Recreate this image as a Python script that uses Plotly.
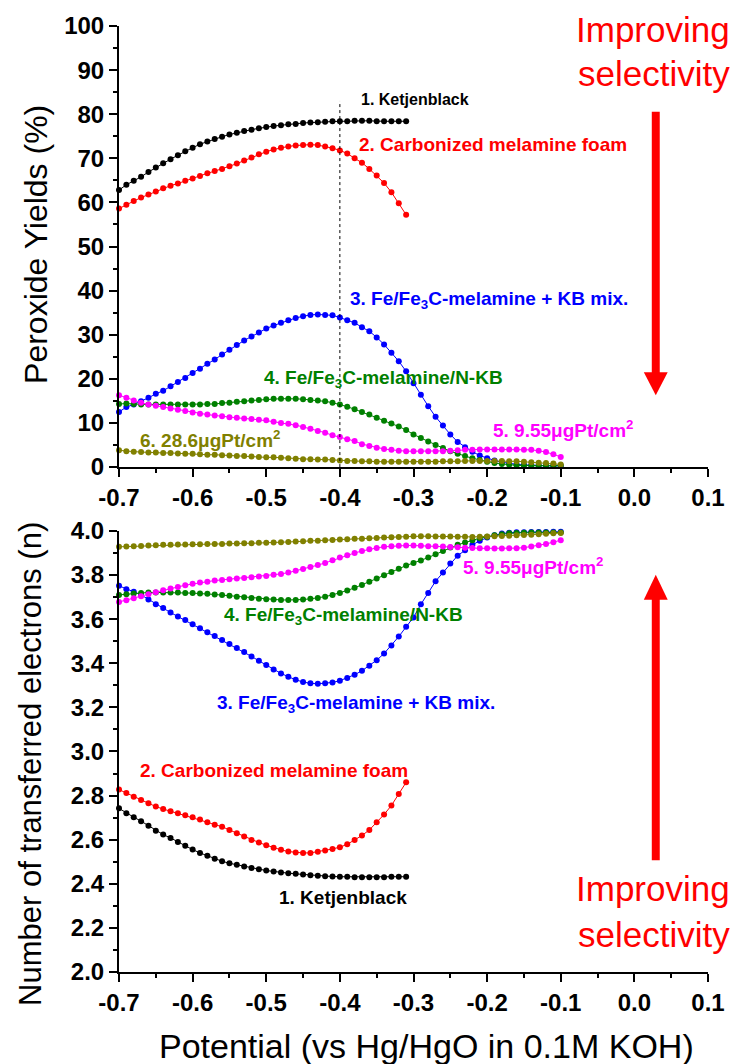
import plotly.graph_objects as go

# Potential grid (V vs Hg/HgO), 10 mV steps
potential_short = [round(-0.70 + 0.01 * i, 2) for i in range(40)]   # -0.70 ... -0.31
potential_long = [round(-0.70 + 0.01 * i, 2) for i in range(61)]    # -0.70 ... -0.10

# Peroxide yields (%)
yield_kb = [62.8, 64.0, 64.9, 65.8, 66.9, 67.9, 68.9, 69.8, 70.7, 71.6,
            72.4, 73.2, 73.8, 74.4, 74.9, 75.4, 75.8, 76.2, 76.5, 76.8,
            77.1, 77.3, 77.5, 77.7, 77.8, 78.0, 78.1, 78.2, 78.3, 78.4,
            78.4, 78.4, 78.5, 78.5, 78.5, 78.4, 78.4, 78.4, 78.4, 78.4]
yield_cmf = [58.6, 59.5, 60.3, 61.1, 61.8, 62.5, 63.2, 63.8, 64.3, 64.9,
             65.4, 66.0, 66.6, 67.1, 67.6, 68.2, 68.8, 69.5, 70.2, 70.9,
             71.5, 72.0, 72.4, 72.7, 72.9, 73.0, 73.1, 73.0, 72.7, 72.3,
             71.8, 71.1, 70.0, 69.0, 67.6, 66.1, 64.4, 62.3, 59.8, 57.2]
yield_mix = [12.5, 13.6, 14.2, 14.9, 15.7, 16.6, 17.3, 18.3, 19.3, 20.2,
             21.3, 22.3, 23.4, 24.4, 25.5, 26.6, 27.7, 28.7, 29.6, 30.5,
             31.4, 32.1, 32.7, 33.3, 33.8, 34.2, 34.5, 34.6, 34.5, 34.4,
             33.9, 33.3, 32.7, 31.7, 30.8, 29.4, 27.8, 25.9, 24.0, 21.7,
             19.0, 16.4, 13.8, 11.4, 9.4, 7.4, 5.7, 4.5, 3.5, 2.6,
             2.0, 1.5, 1.1, 0.8, 0.6, 0.5, 0.4, 0.35, 0.3, 0.3, 0.3]
yield_nkb = [14.3, 14.4, 14.3, 14.2, 14.2, 14.2, 14.2, 14.2, 14.2, 14.2,
             14.2, 14.2, 14.3, 14.3, 14.5, 14.6, 14.8, 14.9, 15.1, 15.2,
             15.4, 15.5, 15.5, 15.5, 15.5, 15.4, 15.2, 15.1, 14.9, 14.6,
             14.2, 13.7, 13.1, 12.5, 11.9, 11.2, 10.5, 9.9, 9.2, 8.4,
             7.4, 6.6, 5.8, 5.0, 4.3, 3.6, 3.0, 2.5, 2.0, 1.6,
             1.2, 0.9, 0.7, 0.5, 0.4, 0.35, 0.3, 0.3, 0.3, 0.3, 0.3]
yield_pt955 = [16.3, 15.7, 15.1, 14.6, 14.2, 13.9, 13.6, 13.3, 13.0, 12.7,
               12.4, 12.1, 11.9, 11.7, 11.5, 11.3, 11.2, 11.0, 10.9, 10.7,
               10.6, 10.3, 10.0, 9.8, 9.5, 9.1, 8.7, 8.2, 7.8, 7.2,
               6.8, 6.3, 5.9, 5.2, 4.8, 4.4, 4.1, 3.9, 3.7, 3.6,
               3.6, 3.6, 3.6, 3.6, 3.6, 3.7, 3.8, 3.9, 3.9, 4.0,
               4.0, 4.0, 4.0, 4.0, 4.0, 3.9, 3.9, 3.7, 3.4, 2.9, 2.3]
yield_pt286 = [3.8, 3.6, 3.5, 3.4, 3.3, 3.3, 3.2, 3.2, 3.1, 3.0,
               3.0, 2.9, 2.8, 2.8, 2.7, 2.6, 2.5, 2.5, 2.4, 2.3,
               2.2, 2.2, 2.1, 2.0, 1.9, 1.8, 1.8, 1.7, 1.7, 1.6,
               1.5, 1.4, 1.4, 1.3, 1.3, 1.2, 1.2, 1.2, 1.2, 1.2,
               1.2, 1.2, 1.2, 1.2, 1.3, 1.3, 1.3, 1.4, 1.4, 1.4,
               1.4, 1.4, 1.4, 1.3, 1.3, 1.2, 1.1, 1.0, 0.9, 0.8, 0.6]

# Number of transferred electrons (n)
n_kb = [2.742, 2.720, 2.702, 2.684, 2.663, 2.641, 2.623, 2.608, 2.590, 2.572,
        2.555, 2.540, 2.527, 2.514, 2.502, 2.493, 2.486, 2.478, 2.472, 2.466,
        2.460, 2.456, 2.451, 2.448, 2.445, 2.442, 2.439, 2.436, 2.434, 2.433,
        2.432, 2.432, 2.430, 2.430, 2.430, 2.430, 2.430, 2.432, 2.432, 2.432]
n_cmf = [2.827, 2.812, 2.795, 2.780, 2.765, 2.750, 2.739, 2.729, 2.720, 2.711,
         2.702, 2.691, 2.679, 2.668, 2.659, 2.644, 2.629, 2.614, 2.599, 2.587,
         2.575, 2.563, 2.554, 2.546, 2.542, 2.540, 2.540, 2.545, 2.551, 2.558,
         2.566, 2.579, 2.599, 2.619, 2.644, 2.679, 2.714, 2.755, 2.807, 2.860]
n_mix = [3.751, 3.736, 3.724, 3.710, 3.689, 3.668, 3.650, 3.630, 3.612, 3.596,
         3.577, 3.559, 3.541, 3.523, 3.505, 3.487, 3.469, 3.451, 3.431, 3.411,
         3.392, 3.372, 3.354, 3.339, 3.325, 3.315, 3.309, 3.307, 3.309, 3.313,
         3.321, 3.333, 3.348, 3.366, 3.389, 3.414, 3.444, 3.481, 3.521, 3.565,
         3.608, 3.667, 3.719, 3.772, 3.811, 3.852, 3.888, 3.912, 3.937, 3.955,
         3.970, 3.980, 3.988, 3.992, 3.994, 3.994, 3.995, 3.995, 3.995, 3.996, 3.996]
n_nkb = [3.710, 3.713, 3.716, 3.719, 3.721, 3.721, 3.721, 3.721, 3.721, 3.719,
         3.718, 3.716, 3.715, 3.712, 3.709, 3.706, 3.702, 3.699, 3.696, 3.693,
         3.690, 3.689, 3.687, 3.687, 3.687, 3.689, 3.692, 3.696, 3.702, 3.710,
         3.719, 3.730, 3.742, 3.755, 3.769, 3.784, 3.799, 3.814, 3.829, 3.843,
         3.855, 3.866, 3.879, 3.894, 3.909, 3.925, 3.937, 3.947, 3.958, 3.967,
         3.974, 3.980, 3.985, 3.989, 3.991, 3.992, 3.993, 3.993, 3.993, 3.993, 3.993]
n_pt955 = [3.678, 3.686, 3.695, 3.704, 3.713, 3.722, 3.731, 3.739, 3.746, 3.754,
           3.760, 3.766, 3.770, 3.775, 3.778, 3.781, 3.784, 3.787, 3.790, 3.793,
           3.796, 3.801, 3.805, 3.811, 3.819, 3.827, 3.836, 3.845, 3.855, 3.867,
           3.879, 3.890, 3.900, 3.909, 3.917, 3.923, 3.928, 3.931, 3.933, 3.934,
           3.934, 3.933, 3.931, 3.930, 3.929, 3.927, 3.926, 3.924, 3.923, 3.921,
           3.921, 3.920, 3.920, 3.921, 3.922, 3.924, 3.929, 3.935, 3.941, 3.949, 3.958]
n_pt286 = [3.928, 3.929, 3.931, 3.932, 3.934, 3.935, 3.937, 3.937, 3.938, 3.938,
           3.940, 3.940, 3.941, 3.941, 3.941, 3.943, 3.943, 3.944, 3.944, 3.946,
           3.946, 3.947, 3.949, 3.950, 3.952, 3.953, 3.955, 3.956, 3.958, 3.959,
           3.961, 3.962, 3.964, 3.965, 3.967, 3.968, 3.970, 3.971, 3.973, 3.974,
           3.976, 3.976, 3.976, 3.975, 3.975, 3.975, 3.974, 3.974, 3.973, 3.974,
           3.975, 3.976, 3.977, 3.978, 3.980, 3.981, 3.983, 3.985, 3.987, 3.989, 3.991]

# Series labels and colours
labels = ["1. Ketjenblack",
          "2. Carbonized melamine foam",
          "3. Fe/Fe<sub>3</sub>C-melamine + KB mix.",
          "4. Fe/Fe<sub>3</sub>C-melamine/N-KB",
          "5. 9.55\u03bcgPt/cm<sup>2</sup>",
          "6. 28.6\u03bcgPt/cm<sup>2</sup>"]
colors = ["#000000", "#ff0000", "#0000ff", "#008000", "#ff00ff", "#808000"]

x_ticks = [-0.7, -0.6, -0.5, -0.4, -0.3, -0.2, -0.1, 0.0, 0.1]
x_ticktext = ["-0.7", "-0.6", "-0.5", "-0.4", "-0.3", "-0.2", "-0.1", "0.0", "0.1"]
yield_ticks = [0, 10, 20, 30, 40, 50, 60, 70, 80, 90, 100]
n_ticks = [2.0, 2.2, 2.4, 2.6, 2.8, 3.0, 3.2, 3.4, 3.6, 3.8, 4.0]
n_ticktext = ["2.0", "2.2", "2.4", "2.6", "2.8", "3.0", "3.2", "3.4", "3.6", "3.8", "4.0"]

xs = [potential_short, potential_short, potential_long, potential_long, potential_long, potential_long]
yields = [yield_kb, yield_cmf, yield_mix, yield_nkb, yield_pt955, yield_pt286]
ns = [n_kb, n_cmf, n_mix, n_nkb, n_pt955, n_pt286]

FONT = "Liberation Sans, Arial, Helvetica, sans-serif"

fig = go.Figure()
for x, yv, nv, c, lab in zip(xs, yields, ns, colors, labels):
    style = dict(mode="lines+markers", line=dict(color=c, width=1),
                 marker=dict(color=c, size=6), cliponaxis=False,
                 showlegend=False, name=lab)
    fig.add_trace(go.Scatter(x=x, y=yv, xaxis="x", yaxis="y", **style))
    fig.add_trace(go.Scatter(x=x, y=nv, xaxis="x2", yaxis="y2", **style))

# pixel -> paper helpers for the layout decorations
L, R, T, B, W, H = 119, 26, 24, 92, 737, 1064
PW, PH = W - L - R, H - T - B
def fx(px):
    return (px - L) / PW
def fy(py):
    return (H - B - py) / PH

axis_common = dict(showline=True, linecolor="black", linewidth=2,
                   ticks="outside", ticklen=8, tickwidth=2, tickcolor="black",
                   showgrid=False, zeroline=False, mirror=False,
                   tickfont=dict(family=FONT, size=24, color="black", weight="bold"))

fig.update_layout(
    width=W, height=H, autosize=False,
    margin=dict(l=L, r=R, t=T, b=B, pad=0),
    paper_bgcolor="white", plot_bgcolor="white",
    xaxis=dict(domain=[0, 1], anchor="y", range=[-0.7, 0.1],
               tickmode="array", tickvals=x_ticks, ticktext=x_ticktext,
               minor=dict(dtick=0.05, tick0=-0.7, ticks="outside", ticklen=4,
                          tickwidth=2, tickcolor="black", showgrid=False),
               **axis_common),
    yaxis=dict(domain=[fy(466), 1], anchor="x", range=[0, 100],
               tickmode="array", tickvals=yield_ticks,
               minor=dict(dtick=5, tick0=0, ticks="outside", ticklen=4,
                          tickwidth=2, tickcolor="black", showgrid=False),
               **axis_common),
    xaxis2=dict(domain=[0, 1], anchor="y2", range=[-0.7, 0.1],
                tickmode="array", tickvals=x_ticks, ticktext=x_ticktext,
                minor=dict(dtick=0.05, tick0=-0.7, ticks="outside", ticklen=4,
                           tickwidth=2, tickcolor="black", showgrid=False),
                **axis_common),
    yaxis2=dict(domain=[0, fy(530)], anchor="x2", range=[2.0, 4.0],
                tickmode="array", tickvals=n_ticks, ticktext=n_ticktext,
                minor=dict(dtick=0.1, tick0=2.0, ticks="outside", ticklen=4,
                           tickwidth=2, tickcolor="black", showgrid=False),
                **axis_common),
)

ann = []
# series labels: (text index, x, y, font size)
label_pos_top = [(0, -0.374, 83.3, 16), (1, -0.377, 73.1, 19), (2, -0.389, 37.8, 19),
                 (3, -0.506, 19.9, 19), (4, -0.195, 8.6, 19), (5, -0.674, 6.3, 19)]
label_pos_bot = [(5, -0.687, 4.023, 19), (4, -0.235, 3.841, 19), (3, -0.560, 3.615, 19),
                 (2, -0.569, 3.216, 19), (1, -0.674, 2.913, 19), (0, -0.485, 2.339, 19)]
for i, x, y, s in label_pos_top:
    ann.append(dict(x=x, y=y, xref="x", yref="y", text=labels[i], showarrow=False,
                    xanchor="left", yanchor="middle",
                    font=dict(family=FONT, size=s, color=colors[i], weight="bold")))
for i, x, y, s in label_pos_bot:
    ann.append(dict(x=x, y=y, xref="x2", yref="y2", text=labels[i], showarrow=False,
                    xanchor="left", yanchor="middle",
                    font=dict(family=FONT, size=s, color=colors[i], weight="bold")))

# axis titles
title_font = dict(family=FONT, size=32, color="black")
ann.append(dict(x=fx(35), y=fy(243), xref="paper", yref="paper", text="Peroxide Yields (%)",
                textangle=-90, showarrow=False, xanchor="center", yanchor="middle",
                font=title_font))
ann.append(dict(x=fx(30), y=fy(763), xref="paper", yref="paper",
                text="Number of transferred electrons (n)",
                textangle=-90, showarrow=False, xanchor="center", yanchor="middle",
                font=dict(family=FONT, size=31, color="black")))
ann.append(dict(x=fx(428), y=fy(1046), xref="paper", yref="paper",
                text="Potential (vs Hg/HgO in 0.1M KOH)", showarrow=False,
                xanchor="center", yanchor="middle",
                font=dict(family=FONT, size=34, color="black")))

# "Improving selectivity" captions
sel_font = dict(family=FONT, size=35, color="#ff0000")
for word, py in [("Improving", 28), ("selectivity", 72), ("Improving", 888), ("selectivity", 934)]:
    ann.append(dict(x=fx(735), y=fy(py), xref="paper", yref="paper", text=word,
                    showarrow=False, xanchor="right", yanchor="middle", font=sel_font))

fig.update_layout(annotations=ann)

red = "#ff0000"
shapes = [
    # reference potential marker
    dict(type="line", xref="x", yref="y", x0=-0.4, x1=-0.4, y0=0, y1=83,
         line=dict(color="black", width=1, dash="dot")),
    # downward arrow (top panel)
    dict(type="rect", xref="paper", yref="paper", x0=fx(654.5), x1=fx(662.5),
         y0=fy(375), y1=fy(110), fillcolor=red, line=dict(width=0)),
    dict(type="path", xref="paper", yref="paper",
         path=f"M {fx(646.5)},{fy(371)} L {fx(670.5)},{fy(371)} L {fx(658.5)},{fy(394)} Z",
         fillcolor=red, line=dict(width=0)),
    # upward arrow (bottom panel)
    dict(type="rect", xref="paper", yref="paper", x0=fx(654.5), x1=fx(662.5),
         y0=fy(860), y1=fy(596), fillcolor=red, line=dict(width=0)),
    dict(type="path", xref="paper", yref="paper",
         path=f"M {fx(646.5)},{fy(599)} L {fx(670.5)},{fy(599)} L {fx(658.5)},{fy(574)} Z",
         fillcolor=red, line=dict(width=0)),
]
fig.update_layout(shapes=shapes)

fig.write_html("out.html", config={"displayModeBar": False})
